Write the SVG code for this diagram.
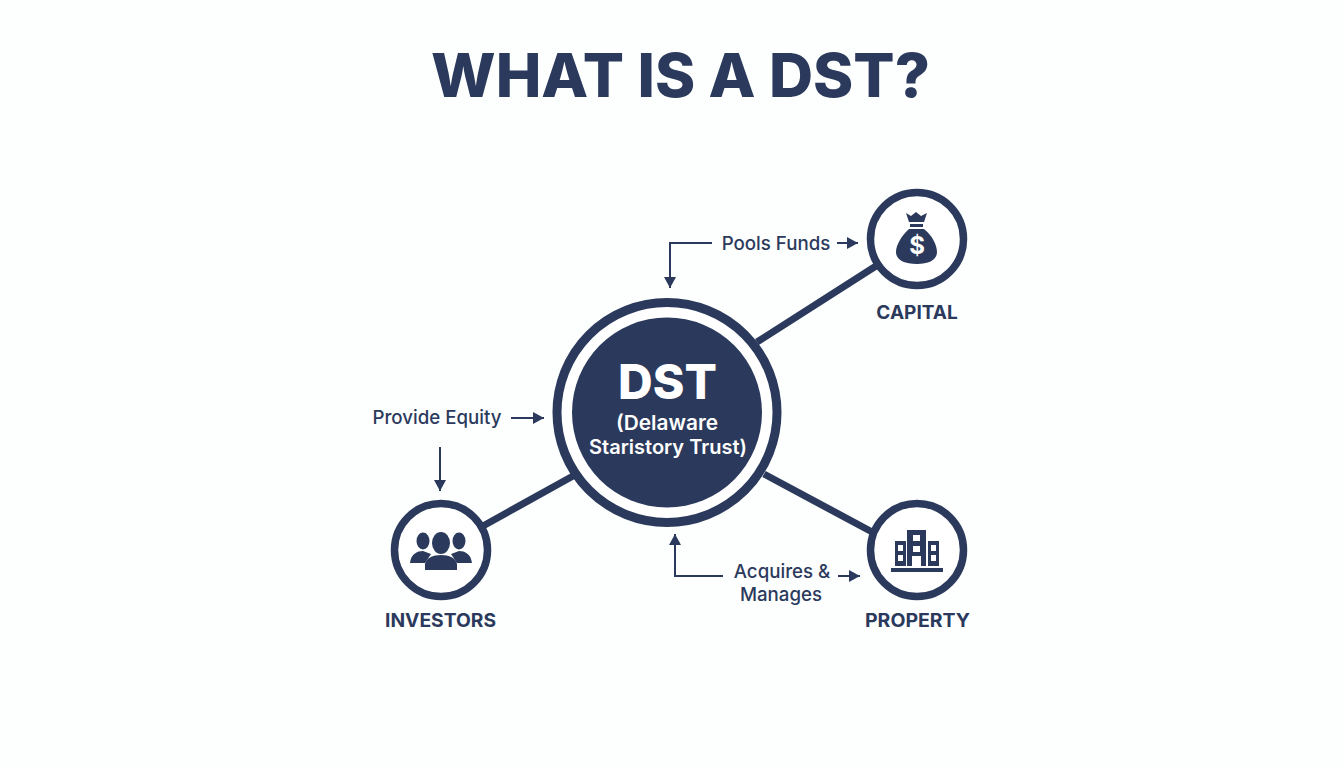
<svg xmlns="http://www.w3.org/2000/svg" width="1344" height="768" viewBox="0 0 1344 768">
<style>
text{font-family:"Inter","Liberation Sans",sans-serif;fill:#2b3a5c;text-anchor:middle}
.lb{font-size:18.7px;font-weight:500}
.nm{font-size:19px;font-weight:700}
.ring{fill:#fff;stroke:#2b3a5c;stroke-width:7.5}
.ln{stroke:#2b3a5c;stroke-width:7;fill:none}
.th{stroke:#2b3a5c;stroke-width:2;fill:none;marker-end:url(#a)}
.ic{fill:#2b3a5c}
</style>
<defs><marker id="a" markerUnits="userSpaceOnUse" markerWidth="12" markerHeight="12" refX="11" refY="6" orient="auto"><path d="M0 0L11 6L0 12Z" fill="#2b3a5c"/></marker></defs>
<rect width="1344" height="768" fill="#fdfefe"/>
<text x="680.5" y="97" textLength="499" lengthAdjust="spacingAndGlyphs" style="font-size:60.5px;font-weight:800">WHAT IS A DST?</text>
<g id="connectors">
<path class="ln" d="M757 342L876 266M573 476L483 526M764 474L874 533"/>
<path class="th" d="M712 243H670V288"/>
<path class="th" d="M837 243H858"/>
<path class="th" d="M511 418H544"/>
<path class="th" d="M440 447V491"/>
<path class="th" d="M723 576H675V534"/>
<path class="th" d="M838 576H860"/>
</g>
<g id="dst">
<circle cx="667" cy="412.5" r="110" fill="#fff" stroke="#2b3a5c" stroke-width="9"/>
<circle cx="667" cy="412.5" r="95" fill="#2b3a5c"/>
<text x="667.5" y="399" style="font-size:48px;font-weight:800;fill:#fff">DST</text>
<text x="667" y="430" textLength="102" lengthAdjust="spacingAndGlyphs" style="font-size:20.5px;font-weight:600;fill:#fff">(Delaware</text>
<text x="668" y="454" textLength="158" lengthAdjust="spacingAndGlyphs" style="font-size:20px;font-weight:600;fill:#fff">Staristory Trust)</text>
</g>
<g id="capital">
<circle class="ring" cx="917" cy="239" r="46.5"/>
<path class="ic" d="M906 213L911 216L916 212L921 216L927 213L924 222H909ZM910 224H923V227H910ZM909 229H924C932 235 937 245 937 252C937 260 929 264 917 264C904 264 896 260 896 252C896 245 902 235 909 229Z"/>
<text x="917" y="254" style="font-size:24px;font-weight:700;fill:#fff">$</text>
<text class="nm" x="917" y="319">CAPITAL</text>
</g>
<g id="investors">
<circle class="ring" cx="441" cy="550" r="46.5"/>
<ellipse class="ic" cx="423" cy="541" rx="6.5" ry="8.5"/>
<ellipse class="ic" cx="459" cy="541" rx="6.5" ry="8.5"/>
<path class="ic" d="M410 563C411 554 417 551 423 551L431 554L425 563ZM472 563C471 554 465 551 459 551L451 554L457 563Z"/>
<ellipse class="ic" cx="441" cy="543" rx="9" ry="11"/>
<path class="ic" d="M425 570V564C426 558 433 555 441 555C449 555 456 558 457 564V570Z"/>
<text class="nm" x="440.5" y="627" textLength="111" lengthAdjust="spacingAndGlyphs">INVESTORS</text>
</g>
<g id="property">
<circle class="ring" cx="917" cy="550" r="46.5"/>
<path class="ic" fill-rule="evenodd" d="M895 541H906V566H895ZM898 545V551H903V545ZM898 555V561H903V555ZM907 530H926V566H921V556H912V566H907ZM913 535V541H920V535ZM913 546V552H920V546ZM928 541H939V566H928ZM931 545V551H936V545ZM931 555V561H936V555ZM891 568H943V572H891Z"/>
<text class="nm" x="917.5" y="627" textLength="105" lengthAdjust="spacingAndGlyphs">PROPERTY</text>
</g>
<g id="labels">
<text class="lb" x="776" y="250">Pools Funds</text>
<text class="lb" x="437" y="424">Provide Equity</text>
<text class="lb" x="782" y="578">Acquires &amp;</text>
<text class="lb" x="781" y="601">Manages</text>
</g>
</svg>
